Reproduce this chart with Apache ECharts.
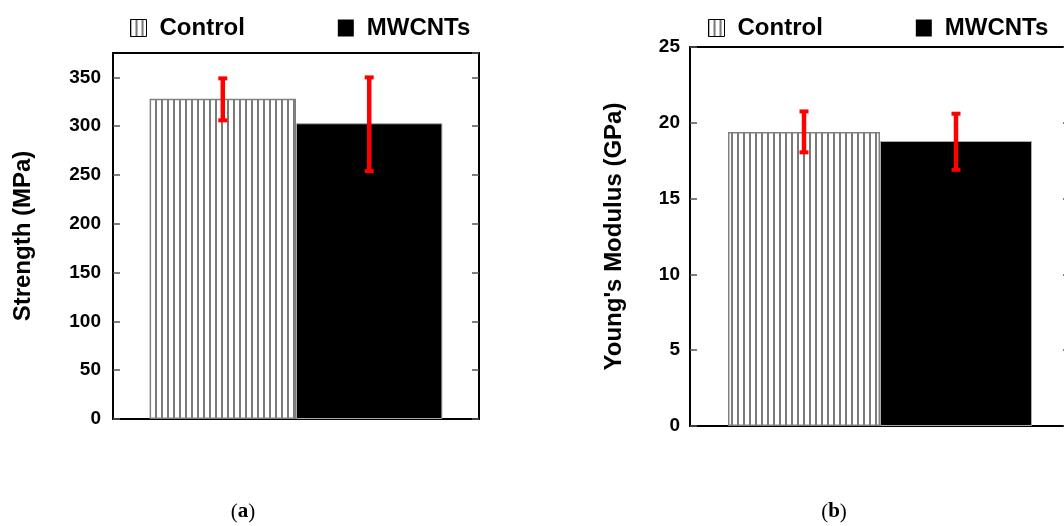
<!DOCTYPE html>
<html>
<head>
<meta charset="utf-8">
<script src="https://cdn.jsdelivr.net/npm/echarts@6/dist/echarts.min.js"></script>
<style>html,body{margin:0;padding:0;background:#fff;overflow:hidden;width:1064px;height:526px;}#c{width:1080px;height:526px;}</style>
</head>
<body>
<div id="c"></div>
<script>
// ---- data ----
var categories = ['Sample'];
var seriesNames = ['Control', 'MWCNTs'];
var strengthValues = [328, 303];          // MPa
var strengthErrLow = [306, 254];
var strengthErrHigh = [349, 350];
var modulusValues = [19.4, 18.8];         // GPa
var modulusErrLow = [18.05, 16.9];
var modulusErrHigh = [20.75, 20.6];
var strengthTicks = {min: 0, max: 375, interval: 50};
var modulusTicks = {min: 0, max: 25, interval: 5};

// stripe pattern for Control bars
function makeStripe() {
  var cv = document.createElement('canvas');
  cv.width = 6; cv.height = 8;
  var ctx = cv.getContext('2d');
  ctx.fillStyle = '#ffffff';
  ctx.fillRect(0, 0, 6, 8);
  ctx.fillStyle = '#7a7a7a';
  ctx.fillRect(5, 0, 1, 8);
  ctx.fillRect(0, 0, 1, 8);
  return cv;
}
var stripe = {image: makeStripe(), repeat: 'repeat'};

var FONT = "'Liberation Sans', Arial, sans-serif";

function errRender(params, api) {
  var idx = api.value(0), low = api.value(1), high = api.value(2), side = api.value(3);
  var band = api.size([1, 0])[0];
  var pl = api.coord([idx, low]);
  var ph = api.coord([idx, high]);
  var x = pl[0] + side * band * 0.2;
  var st = {stroke: '#ff0000', lineWidth: 4.5};
  var cs = {stroke: '#ff0000', lineWidth: 4};
  return {type: 'group', children: [
    {type: 'line', shape: {x1: x, y1: pl[1], x2: x, y2: ph[1]}, style: st},
    {type: 'line', shape: {x1: x - 4.5, y1: pl[1], x2: x + 4.5, y2: pl[1]}, style: cs},
    {type: 'line', shape: {x1: x - 4.5, y1: ph[1], x2: x + 4.5, y2: ph[1]}, style: cs}
  ]};
}

function errData(lows, highs) {
  return lows.map(function (l, i) { return [0, l, highs[i], i === 0 ? -1 : 1]; });
}

function yAxes(gi, t, name, gap) {
  var common = {
    type: 'value', gridIndex: gi, min: t.min, max: t.max, interval: t.interval,
    splitLine: {show: false},
    axisLine: {show: true, lineStyle: {color: '#000', width: 2}},
    axisTick: {show: true, inside: true, length: 7, lineStyle: {color: '#555', width: 1.5}}
  };
  return [
    Object.assign({}, common, {
      position: 'left', name: name, nameLocation: 'middle', nameGap: gap,
      nameTextStyle: {fontFamily: FONT, fontWeight: 'bold', fontSize: 24, color: '#000'},
      axisLabel: {fontFamily: FONT, fontWeight: 'bold', fontSize: 19, color: '#000', margin: gi === 0 ? 12 : 10,
        showMaxLabel: gi === 0 ? false : true}
    }),
    Object.assign({}, common, {position: 'right', axisLabel: {show: false}})
  ];
}

function legend(left) {
  return {
    left: left, top: 11, itemWidth: 16, itemHeight: 17, itemGap: 93, icon: 'rect',
    textStyle: {fontFamily: FONT, fontWeight: 'bold', fontSize: 24, color: '#000', padding: [0, 0, 0, 8]},
    data: [
      {name: 'Control', itemStyle: {borderColor: '#000', borderWidth: 1}},
      {name: 'MWCNTs', itemStyle: {borderColor: '#000', borderWidth: 0}}
    ],
    selectedMode: false
  };
}

function barSeries(gi, vals) {
  return [
    {name: seriesNames[0], type: 'bar', xAxisIndex: gi, yAxisIndex: gi * 2, data: [vals[0]],
      barGap: '0%', barCategoryGap: '20%',
      itemStyle: {color: stripe, borderColor: '#808080', borderWidth: 1.5}},
    {name: seriesNames[1], type: 'bar', xAxisIndex: gi, yAxisIndex: gi * 2, data: [vals[1]],
      barGap: '0%', barCategoryGap: '20%',
      itemStyle: {color: '#000', borderColor: '#aaa', borderWidth: 1}}
  ];
}

var xAxisCommon = {
  type: 'category', data: categories,
  axisLine: {show: true, lineStyle: {color: '#000', width: 2}},
  axisTick: {show: false}, axisLabel: {show: false}, splitLine: {show: false}
};

var chart = echarts.init(document.getElementById('c'));
chart.setOption({
  backgroundColor: '#fff',
  animation: false,
  legend: [legend(125), legend(703)],
  grid: [
    {left: 113, top: 53, width: 366, height: 366, show: true, borderColor: '#000', borderWidth: 2, backgroundColor: 'transparent'},
    {left: 690, top: 47, width: 380, height: 379, show: true, borderColor: '#000', borderWidth: 2, backgroundColor: 'transparent'}
  ],
  xAxis: [
    Object.assign({gridIndex: 0}, xAxisCommon),
    Object.assign({gridIndex: 1}, xAxisCommon)
  ],
  yAxis: yAxes(0, strengthTicks, 'Strength (MPa)', 78).concat(yAxes(1, modulusTicks, "Young's Modulus (GPa)", 64)),
  series: barSeries(0, strengthValues).concat(barSeries(1, modulusValues)).concat([
    {type: 'custom', xAxisIndex: 0, yAxisIndex: 0, renderItem: errRender, data: errData(strengthErrLow, strengthErrHigh), z: 5,
      encode: {x: 0, y: [1, 2]}},
    {type: 'custom', xAxisIndex: 1, yAxisIndex: 2, renderItem: errRender, data: errData(modulusErrLow, modulusErrHigh), z: 5,
      encode: {x: 0, y: [1, 2]}}
  ]),
  graphic: [
    {type: 'text', x: 243, y: 512, style: {text: '({b|a})', rich: {b: {fontWeight: 'bold', fontSize: 21, fontFamily: "'Liberation Serif', serif"}},
      fontSize: 21, fontFamily: "'Liberation Serif', serif", fill: '#000', align: 'center', verticalAlign: 'middle'}},
    {type: 'text', x: 834, y: 512, style: {text: '({b|b})', rich: {b: {fontWeight: 'bold', fontSize: 21, fontFamily: "'Liberation Serif', serif"}},
      fontSize: 21, fontFamily: "'Liberation Serif', serif", fill: '#000', align: 'center', verticalAlign: 'middle'}}
  ]
});
</script>
</body>
</html>
